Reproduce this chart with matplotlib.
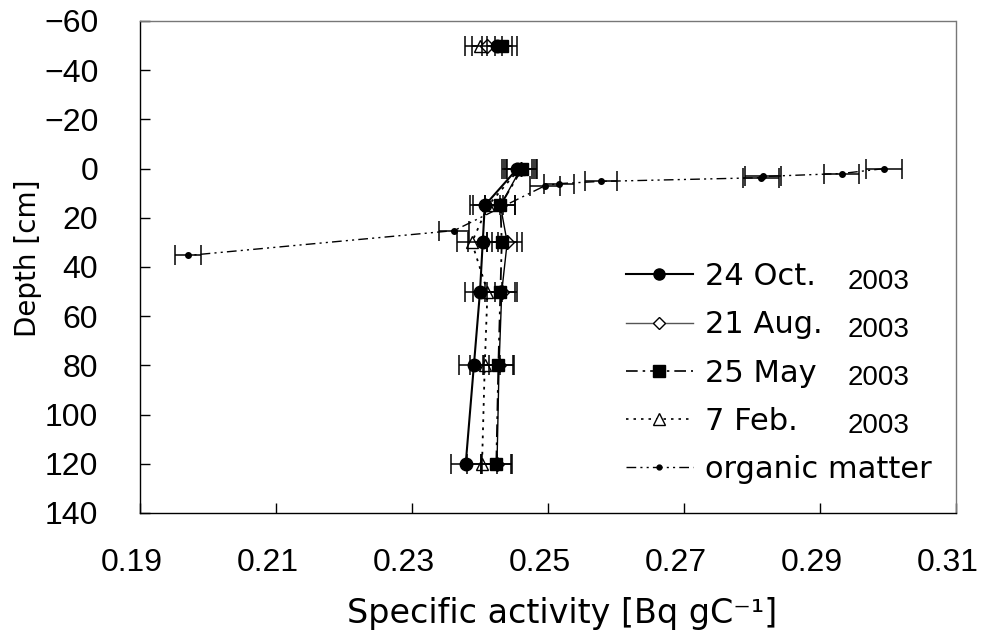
import numpy as np
import matplotlib
matplotlib.use('Agg')
import matplotlib.pyplot as plt
import matplotlib.transforms as mtransforms
from matplotlib.lines import Line2D

plt.rcParams.update({
    'font.family': ['Liberation Sans', 'DejaVu Sans'],
    'font.size': 22,
    'xtick.direction': 'in',
    'ytick.direction': 'in',
    'xtick.major.size': 7,
    'ytick.major.size': 7,
    'xtick.labelsize': 23,
    'ytick.labelsize': 23,
})

# depth of the sampling points [cm]
depth = [-50, 0, 15, 30, 50, 80, 120]

oct24 = [0.2425, 0.2455, 0.2407, 0.2404, 0.2400, 0.2391, 0.2379]
aug21 = [0.2410, 0.2460, 0.2430, 0.2440, 0.2432, 0.2428, 0.2425]
may25 = [0.2433, 0.2462, 0.2430, 0.2432, 0.2430, 0.2427, 0.2424]
feb07 = [0.2400, 0.2458, 0.2412, 0.2388, 0.2411, 0.2407, 0.2403]
err_soil = 0.0022

om_depth = [0, 2.0, 3.2, 3.7, 5.2, 6.1, 6.9, 25.2, 35.3]
om_act = [0.2994, 0.2932, 0.2816, 0.2813, 0.2578, 0.2516, 0.2496, 0.2362, 0.1971]
om_err = [0.0026, 0.0026, 0.0026, 0.0026, 0.0023, 0.0022, 0.0022, 0.0022, 0.0019]

fig = plt.figure(figsize=(9.82, 6.36), dpi=100)
ax = fig.add_axes([140/982, 1 - 513/636, 816/982, (513 - 21)/636])

ekw = dict(ecolor='black', elinewidth=1.1, capsize=7, capthick=1.1)

# organic matter profile
ax.errorbar(om_act, om_depth, xerr=om_err, fmt='o', ms=4, color='black',
            ls=(0, (7, 3, 1.5, 3, 1.5, 3)), lw=1, zorder=2, **ekw)

series = [
    (feb07, '^', 'white', (0, (1.5, 3)), 1.3, 3),
    (aug21, 'D', 'white', '-', 1.0, 4),
    (oct24, 'o', 'black', '-', 1.5, 5),
    (may25, 's', 'black', (0, (7, 3, 1.5, 3)), 1.3, 6),
]
for vals, mk, fc, ls, lw, z in series:
    ms = 7 if mk == 'D' else 9
    # profile below the surface, connected
    ax.errorbar(vals[1:], depth[1:], xerr=err_soil, fmt=mk, ms=ms, mfc=fc, mec='black',
                color='black', ls=ls, lw=lw, zorder=z, **ekw)
    # point above the surface, not connected
    ax.errorbar(vals[:1], depth[:1], xerr=err_soil, fmt=mk, ms=ms, mfc=fc, mec='black',
                color='black', ls='none', zorder=z, **ekw)

ax.set_xlim(0.19, 0.31)
ax.set_ylim(140, -60)
ax.set_xticks(np.arange(0.19, 0.3101, 0.02))
ax.set_xticklabels(['0.19', '0.21', '0.23', '0.25', '0.27', '0.29', '0.31'])
ax.set_yticks(np.arange(-60, 141, 20))
ax.tick_params(axis='x', pad=25, width=1)
ax.tick_params(axis='y', pad=30, width=1)

# labels sit a bit left of their ticks, like the original
shift = mtransforms.ScaledTranslation(-0.08, 0, fig.dpi_scale_trans)
for lab in ax.get_xticklabels():
    lab.set_transform(lab.get_transform() + shift)

ax.spines['left'].set_linewidth(1)
ax.spines['bottom'].set_linewidth(1)
for s in ['top', 'right']:
    ax.spines[s].set_linestyle((0, (1, 1)))
    ax.spines[s].set_color('#777777')
    ax.spines[s].set_linewidth(1)

ax.set_xlabel('Specific activity [Bq gC\u207b\u00b9]', fontsize=24, family=['DejaVu Sans'])
ax.xaxis.set_label_coords((562 - 140) / 816, (513 - 614) / 492)
ax.xaxis.label.set_va('center')
ax.set_ylabel('Depth [cm]', fontsize=20, family=['DejaVu Sans'])
ax.yaxis.set_label_coords((28 - 140) / 816, (513 - 258) / 492)
ax.yaxis.label.set_va('center')

handles = [
    Line2D([], [], color='black', lw=1.5, marker='o', ms=8, mfc='black', mec='black'),
    Line2D([], [], color='#555555', lw=1.0, marker='D', ms=6, mfc='white', mec='black'),
    Line2D([], [], color='black', lw=1.2, ls=(0, (7, 3, 1.5, 3)), marker='s', ms=8, mfc='black', mec='black'),
    Line2D([], [], color='black', lw=1.2, ls=(0, (1.5, 3)), marker='^', ms=8, mfc='white', mec='black'),
    Line2D([], [], color='black', lw=1.0, ls=(0, (7, 3, 1.5, 3, 1.5, 3)), marker='o', ms=3.5, mfc='black', mec='black'),
]
labels = ['24 Oct.', '21 Aug.', '25 May', '7 Feb.', 'organic matter']
years = ['2003', '2003', '2003', '2003']

leg = ax.legend(handles, labels, loc='upper left', bbox_to_anchor=(0.595, 0.51),
                frameon=False, handlelength=2.2, handletextpad=0.4,
                labelspacing=0.63, borderaxespad=0, borderpad=0,
                prop={'family': 'DejaVu Sans', 'size': 22})

fig.canvas.draw()
H = fig.get_size_inches()[1] * fig.dpi
W = fig.get_size_inches()[0] * fig.dpi
for txt, yr in zip(leg.get_texts(), years):
    bb = txt.get_window_extent()
    yc = (bb.y0 + bb.y1) / 2 - 5
    fig.text(848 / W, yc / H, yr, fontsize=20, va='center', ha='left')

fig.savefig('out.png', dpi=100, facecolor='white')
